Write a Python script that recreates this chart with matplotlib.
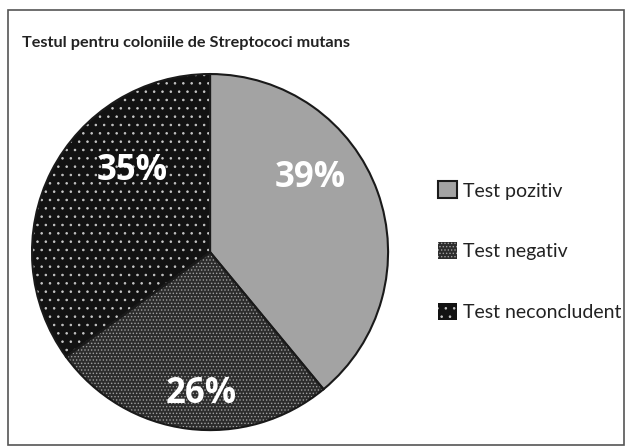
import matplotlib
matplotlib.use("Agg")
import matplotlib.pyplot as plt
import numpy as np
from matplotlib.patches import Rectangle, Patch

plt.rcParams['font.family'] = ['Lato', 'DejaVu Sans']
plt.rcParams['hatch.linewidth'] = 0.6

# date
categorii = ["Test pozitiv", "Test negativ", "Test neconcludent"]
procente = [39, 26, 35]
etichete = ["39%", "26%", "35%"]
titlu = "Testul pentru coloniile de Streptococi mutans"

culori = ["#a3a3a3", "#2c2c2c", "#121212"]
hasuri = [None, ".....", ".."]
culori_hasura = ["#a3a3a3", "#a0a0a0", "#c8c8c8"]

fig = plt.figure(figsize=(6.32, 4.48), dpi=100)
fig.patches.append(Rectangle((0.012, 0.006), 0.976, 0.972, transform=fig.transFigure,
                             fill=False, edgecolor="#555555", linewidth=1.2))

fig.text(0.035, 0.905, titlu, fontsize=11.7, fontweight="bold", color="#222222",
         va="center")

ax = fig.add_axes([0.045, 0.032, 0.5747, 0.8107])
wedges, _ = ax.pie(procente, startangle=90, counterclock=False,
                   colors=culori, radius=1.0)
for w, h, hc in zip(wedges, hasuri, culori_hasura):
    w.set_linewidth(0)
    if h:
        w.set_hatch(h)
        w.set_edgecolor(hc)
# contur negru peste hasuri
ax.pie(procente, startangle=90, counterclock=False, radius=1.0,
       wedgeprops=dict(facecolor="none", edgecolor="#1a1a1a", linewidth=1.5))
ax.set_xlim(-1.02, 1.02)
ax.set_ylim(-1.02, 1.02)
ax.set_aspect("equal")
ax.axis("off")

# pozitii etichete (raza, unghi) alese dupa imagine
poz = [(0.70, 36.5), (0.80, -93.6), (0.63, 134)]
for et, (r, a) in zip(etichete, poz):
    ax.text(r * np.cos(np.radians(a)), r * np.sin(np.radians(a)), et,
            ha="center", va="center", color="white", fontsize=25,
            fontweight="bold", family=["Open Sans", "DejaVu Sans"])

manere = []
for c, h, hc in zip(culori, hasuri, culori_hasura):
    if h:
        manere.append(Patch(facecolor=c, hatch=h, edgecolor=hc, linewidth=0))
    else:
        manere.append(Patch(facecolor=c, edgecolor="#1a1a1a", linewidth=1.5))
fig.legend(manere, categorii, loc="upper left", bbox_to_anchor=(0.6655, 0.634),
           frameon=False, fontsize=14, handlelength=0.95, handleheight=0.95,
           handletextpad=0.35, labelspacing=2.2, labelcolor="#222222")

fig.savefig("out.png", dpi=100)
